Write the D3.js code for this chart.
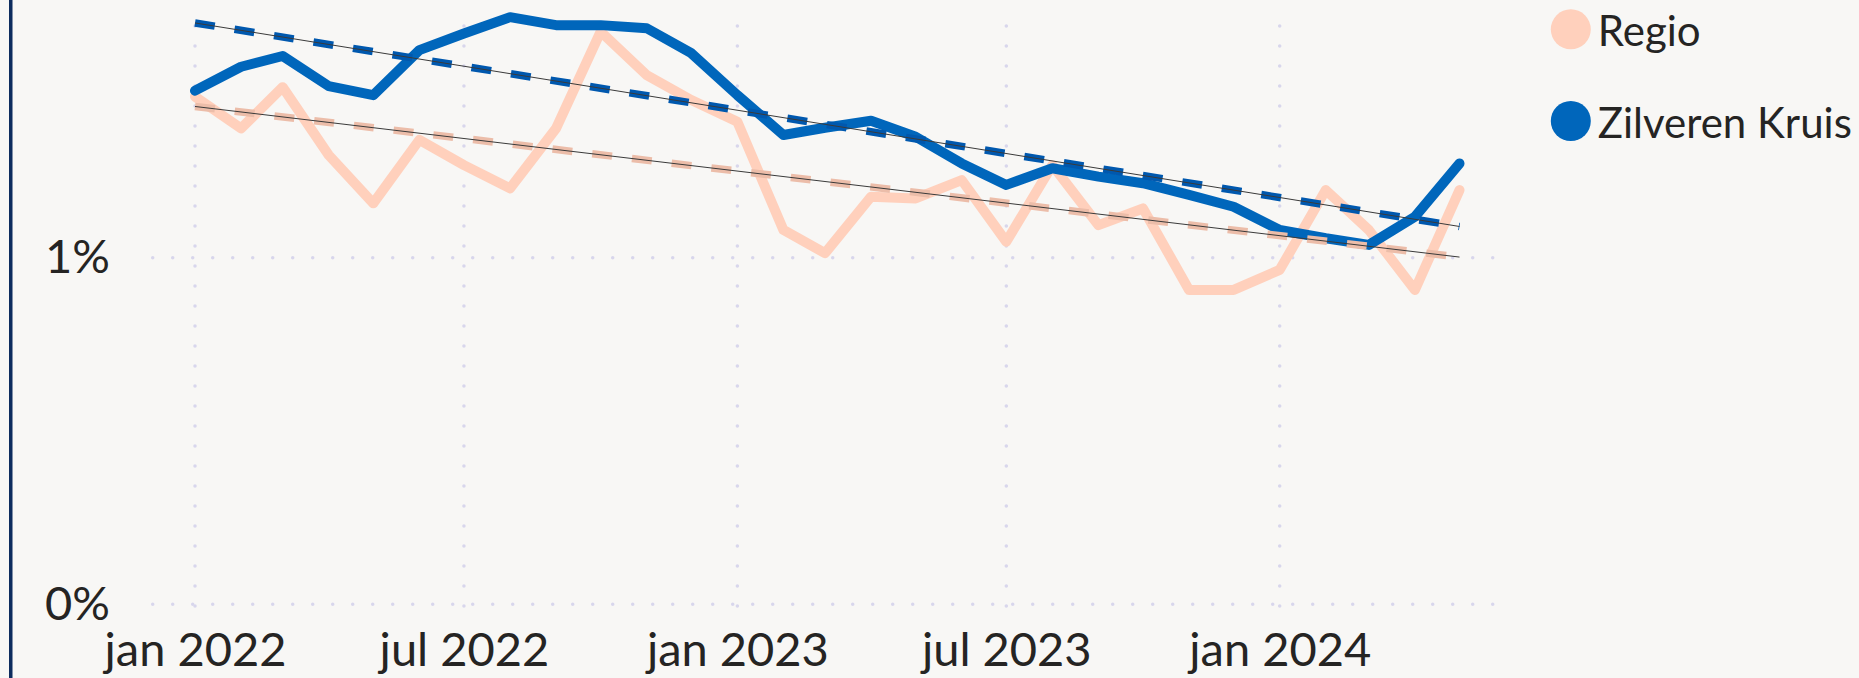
<!DOCTYPE html>
<html>
<head>
<meta charset="utf-8">
<script src="https://cdn.jsdelivr.net/npm/d3@7"></script>
<style>
  html, body { margin: 0; padding: 0; background: #f8f7f5; overflow: hidden; }
  svg { display: block; }
</style>
</head>
<body>
<svg id="chart" width="1859" height="678"></svg>
<script>
// monthly values, in percent
const months = [
  "2022-01", "2022-02", "2022-03", "2022-04", "2022-05", "2022-06",
  "2022-07", "2022-08", "2022-09", "2022-10", "2022-11", "2022-12",
  "2023-01", "2023-02", "2023-03", "2023-04", "2023-05", "2023-06",
  "2023-07", "2023-08", "2023-09", "2023-10", "2023-11", "2023-12",
  "2024-01", "2024-02", "2024-03", "2024-04", "2024-05"
];
const regio = [
  1.465, 1.373, 1.492, 1.296, 1.157, 1.340, 1.267, 1.200, 1.373, 1.652,
  1.527, 1.455, 1.392, 1.080, 1.013, 1.176, 1.171, 1.224, 1.046, 1.267,
  1.094, 1.142, 0.907, 0.907, 0.965, 1.195, 1.080, 0.907, 1.195
];
const zilverenKruis = [
  1.482, 1.551, 1.582, 1.495, 1.469, 1.599, 1.647, 1.694, 1.671, 1.671,
  1.662, 1.590, 1.469, 1.354, 1.375, 1.395, 1.349, 1.272, 1.210, 1.258,
  1.234, 1.215, 1.181, 1.147, 1.080, 1.056, 1.037, 1.118, 1.272
];
const seriesNames = ["Regio", "Zilveren Kruis"];
const seriesColors = ["#ffd0bc", "#0066bb"];
const trendColors = ["#ecbda9", "#0058ae"];
const yTicks = [0, 1];
const xTicks = ["2022-01", "2022-07", "2023-01", "2023-07", "2024-01"];
const xTickLabels = ["jan 2022", "jul 2022", "jan 2023", "jul 2023", "jan 2024"];

const parseMonth = d3.timeParse("%Y-%m");
const FONT = "Lato, 'Open Sans', sans-serif";

const svg = d3.select("#chart");

// left border
svg.append("rect")
  .attr("x", 9).attr("y", 0)
  .attr("width", 3.5).attr("height", 678)
  .attr("fill", "#0d2c5e");

const dates = months.map(parseMonth);
const x = d3.scaleTime()
  .domain(d3.extent(dates))
  .range([195, 1459.5]);
const y = d3.scaleLinear()
  .domain([0, 1])
  .range([604.3, 257.7]);

// dotted gridlines
const gridStyle = (sel) => sel
  .attr("stroke", "#d8d6ec")
  .attr("stroke-width", 3.5)
  .attr("stroke-linecap", "round")
  .attr("stroke-dasharray", "0 20");

svg.append("g").selectAll("line")
  .data(yTicks)
  .join("line")
  .attr("x1", 152.7).attr("x2", 1493)
  .attr("y1", (d) => y(d)).attr("y2", (d) => y(d))
  .call(gridStyle);

svg.append("g").selectAll("line")
  .data(xTicks.map(parseMonth))
  .join("line")
  .attr("x1", (d) => x(d)).attr("x2", (d) => x(d))
  .attr("y1", y(0) + 1.7).attr("y2", 25)
  .call(gridStyle);

// axes
const yAxis = svg.append("g")
  .attr("transform", "translate(110,0)")
  .call(d3.axisLeft(y).tickValues(yTicks).tickSize(0).tickPadding(0).tickFormat((d) => d + "%"));

const xAxis = svg.append("g")
  .attr("transform", "translate(0,632.6)")
  .call(d3.axisBottom(x)
    .tickValues(xTicks.map(parseMonth))
    .tickSize(0).tickPadding(0)
    .tickFormat((d, i) => xTickLabels[i]));

[yAxis, xAxis].forEach((a) => {
  a.select(".domain").remove();
  a.attr("font-family", FONT).attr("font-size", 47);
  a.selectAll("text").attr("fill", "#252423");
});

// series lines
const series = [regio, zilverenKruis];
const line = d3.line()
  .x((d, i) => x(dates[i]))
  .y((d) => y(d));

series.forEach((values, k) => {
  svg.append("path")
    .datum(values)
    .attr("d", line)
    .attr("fill", "none")
    .attr("stroke", seriesColors[k])
    .attr("stroke-width", 10)
    .attr("stroke-linejoin", "round")
    .attr("stroke-linecap", "round");
});

// linear trend lines
const trend = (values) => {
  const xs = dates.map((d) => +d);
  const mx = d3.mean(xs), my = d3.mean(values);
  const b = d3.sum(xs, (v, i) => (v - mx) * (values[i] - my)) / d3.sum(xs, (v) => (v - mx) ** 2);
  const a = my - b * mx;
  return [xs[0], xs[xs.length - 1]].map((v) => [v, a + b * v]);
};

series.forEach((values, k) => {
  const pts = trend(values);
  const tl = d3.line().x((p) => x(p[0])).y((p) => y(p[1]));
  svg.append("path")
    .attr("d", tl(pts))
    .attr("fill", "none")
    .attr("stroke", trendColors[k])
    .attr("stroke-width", 7.5)
    .attr("stroke-dasharray", "20 20");
  svg.append("path")
    .attr("d", tl(pts))
    .attr("fill", "none")
    .attr("stroke", "#3a3a3a")
    .attr("stroke-width", 1);
});

// legend
const legend = svg.append("g")
  .selectAll("g")
  .data(seriesNames)
  .join("g")
  .attr("transform", (d, i) => `translate(1570.8,${29.3 + i * 91.7})`);

legend.append("circle")
  .attr("r", 20)
  .attr("fill", (d, i) => seriesColors[i]);

legend.append("text")
  .attr("x", 27)
  .attr("y", 16.5)
  .attr("font-family", FONT)
  .attr("font-size", 42)
  .attr("fill", "#252423")
  .text((d) => d);
</script>
</body>
</html>
